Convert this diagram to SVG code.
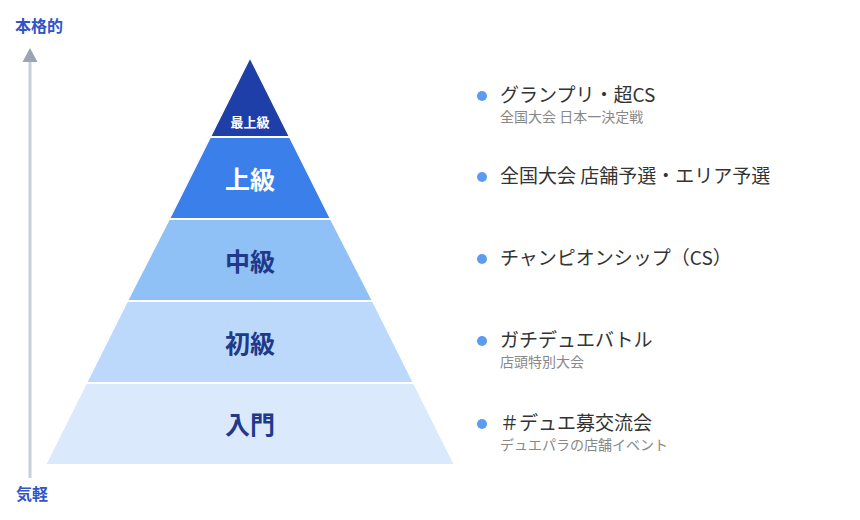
<svg xmlns="http://www.w3.org/2000/svg" width="860" height="520" viewBox="0 0 860 520">
<style>
text{font-family:"Noto Sans CJK JP","Liberation Sans",sans-serif}
.tier{stroke:#fff;stroke-width:2}
.lv{font-weight:bold;text-anchor:middle}
.main{font-size:19px;fill:#333}
.sub{font-size:14px;fill:#888}
.dot{fill:#5b9cf0}
</style>
<defs><marker id="ah" markerWidth="10" markerHeight="10" refX="5" refY="8" orient="auto" markerUnits="userSpaceOnUse"><path d="M0,8 L5,0 L10,8 Z" fill="#9aa4b2"/></marker></defs>
<rect width="860" height="520" fill="#fff"/>
<g id="axis">
<line x1="30" y1="478" x2="30" y2="56" stroke="#c8d0dc" stroke-width="3"/>
<path d="M22.5,62 L30,48 L37.5,62 Z" fill="#9aa4b2"/>
<text x="39" y="32" font-size="16" font-weight="bold" fill="#2f55c8" text-anchor="middle">本格的</text>
<text x="32" y="500" font-size="16" font-weight="bold" fill="#2f55c8" text-anchor="middle">気軽</text>
</g>
<g id="t1"><polygon class="tier" points="250,57 290,137 210,137" fill="#1f3fa8"/><text class="lv" x="250" y="127" font-size="13" fill="#fff">最上級</text></g>
<g id="t2"><polygon class="tier" points="210,137 290,137 331,219 169,219" fill="#3b80ea"/><text class="lv" x="250" y="189" font-size="25" fill="#fff">上級</text></g>
<g id="t3"><polygon class="tier" points="169,219 331,219 373,301 127,301" fill="#8fc0f6"/><text class="lv" x="250" y="271" font-size="25" fill="#1f3a8a">中級</text></g>
<g id="t4"><polygon class="tier" points="127,301 373,301 414,383 86,383" fill="#bcd9fb"/><text class="lv" x="250" y="353" font-size="25" fill="#1f3a8a">初級</text></g>
<g id="t5"><polygon class="tier" points="86,383 414,383 455,465 45,465" fill="#dbe9fc"/><text class="lv" x="250" y="434" font-size="25" fill="#1f3a8a">入門</text></g>
<g id="l1"><circle class="dot" cx="482" cy="96" r="5"/><text class="main" x="500" y="102">グランプリ・超CS</text><text class="sub" x="500" y="122">全国大会 日本一決定戦</text></g>
<g id="l2"><circle class="dot" cx="482" cy="177" r="5"/><text class="main" x="500" y="183">全国大会 店舗予選・エリア予選</text></g>
<g id="l3"><circle class="dot" cx="482" cy="259" r="5"/><text class="main" x="500" y="265">チャンピオンシップ（CS）</text></g>
<g id="l4"><circle class="dot" cx="482" cy="341" r="5"/><text class="main" x="500" y="347">ガチデュエバトル</text><text class="sub" x="500" y="367">店頭特別大会</text></g>
<g id="l5"><circle class="dot" cx="482" cy="424" r="5"/><text class="main" x="500" y="430">＃デュエ募交流会</text><text class="sub" x="500" y="450">デュエパラの店舗イベント</text></g>
</svg>
